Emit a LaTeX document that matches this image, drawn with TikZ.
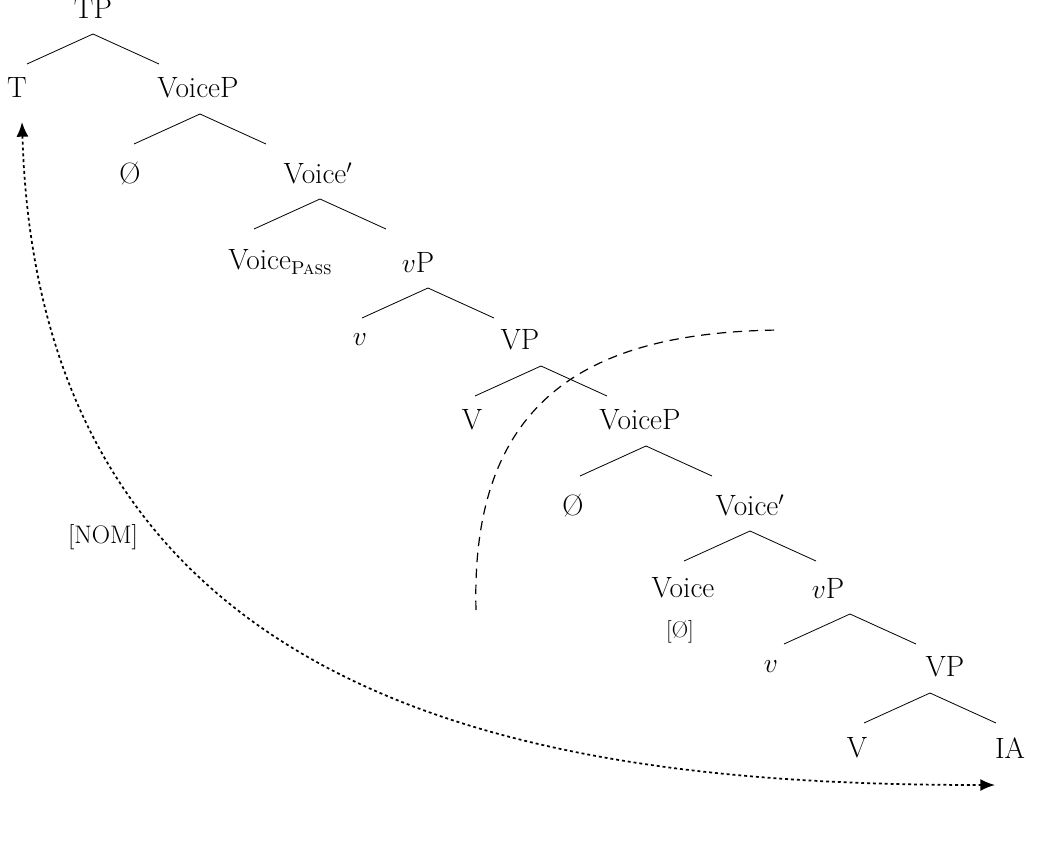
\documentclass[tikz,border=0pt]{standalone}
\usetikzlibrary{calc,arrows.meta}
\newcommand\branch[2][0]{\draw [line width=0.6pt] ($(#2)+(#1-66,56)$) -- ($(#2)+(#1,26)$) -- ($(#2)+(#1+66,56)$);}
\begin{document}
\begin{tikzpicture}[x=0.75pt,y=-0.75pt]
  \useasboundingbox (0,0) rectangle (1043,846);
  \tikzset{lab/.style={inner sep=0pt,font=\fontsize{22}{26}\selectfont}}
  {
  % Upper tree
  \node [lab] (tp) at (93,8) {TP};
  \node [lab] (t) at (17,88) {T};
  \node [lab] (voicep1) at (198,88) {VoiceP};
  \node [lab] (null1) at (130,173) {\O};
  \node [lab] (voicebar1) at (318,173) {Voice$'$};
  \node [lab] (voicepass) at (280,262) {Voice\raisebox{-0.35ex}{\fontsize{14}{16}\selectfont\textsc{Pass}}};
  \node [lab] (vp1) at (418,262) {$v$P};
  \node [lab] (v1) at (360,340) {$v$};
  \node [lab] (bigvp1) at (520,340) {VP};
  \node [lab] (bigv1) at (472,420) {V};
  \node [lab] (voicep2) at (640,420) {VoiceP};

  % Lower tree
  \node [lab] (null2) at (573,505) {\O};
  \node [lab] (voicebar2) at (750,505) {Voice$'$};
  \node [lab] (voice2) at (683,588) {Voice};
  \node [lab,font=\fontsize{17}{20}\selectfont] (voicefeat) at (680,632) {[\O]};
  \node [lab] (vp2) at (828,588) {$v$P};
  \node [lab] (v2) at (771,667) {$v$};
  \node [lab] (bigvp2) at (945,667) {VP};
  \node [lab] (bigv2) at (857,748) {V};
  \node [lab] (ia) at (1010,748) {IA};

  % Branches
  \branch{tp}
  \branch[2]{voicep1}
  \branch[2]{voicebar1}
  \branch[10]{vp1}
  \branch[21]{bigvp1}
  \branch[6]{voicep2}
  \branch{voicebar2}
  \branch[22]{vp2}
  \branch[-15]{bigvp2}

  % Phase boundary
  \coordinate (phasebot) at (476,610);
  \coordinate (phasetop) at (780,330);
  \draw [line width=0.9pt,dash pattern=on 7pt off 5pt] (phasebot) .. controls (470,390) and (600,332) .. (phasetop);

  % Agreement
  \node [lab,font=\fontsize{19}{22}\selectfont] (nom) at (103,537) {[NOM]};
  \coordinate (agrtop) at (22,122);
  \coordinate (agrend) at (995,785);
  \draw [line width=1.3pt,dash pattern=on 2.2pt off 2.2pt,{Latex[length=11pt,width=9pt]}-{Latex[length=11pt,width=9pt]}]
    (agrtop) .. controls (40,720) and (560,785) .. (agrend);
  }
\end{tikzpicture}
\end{document}
